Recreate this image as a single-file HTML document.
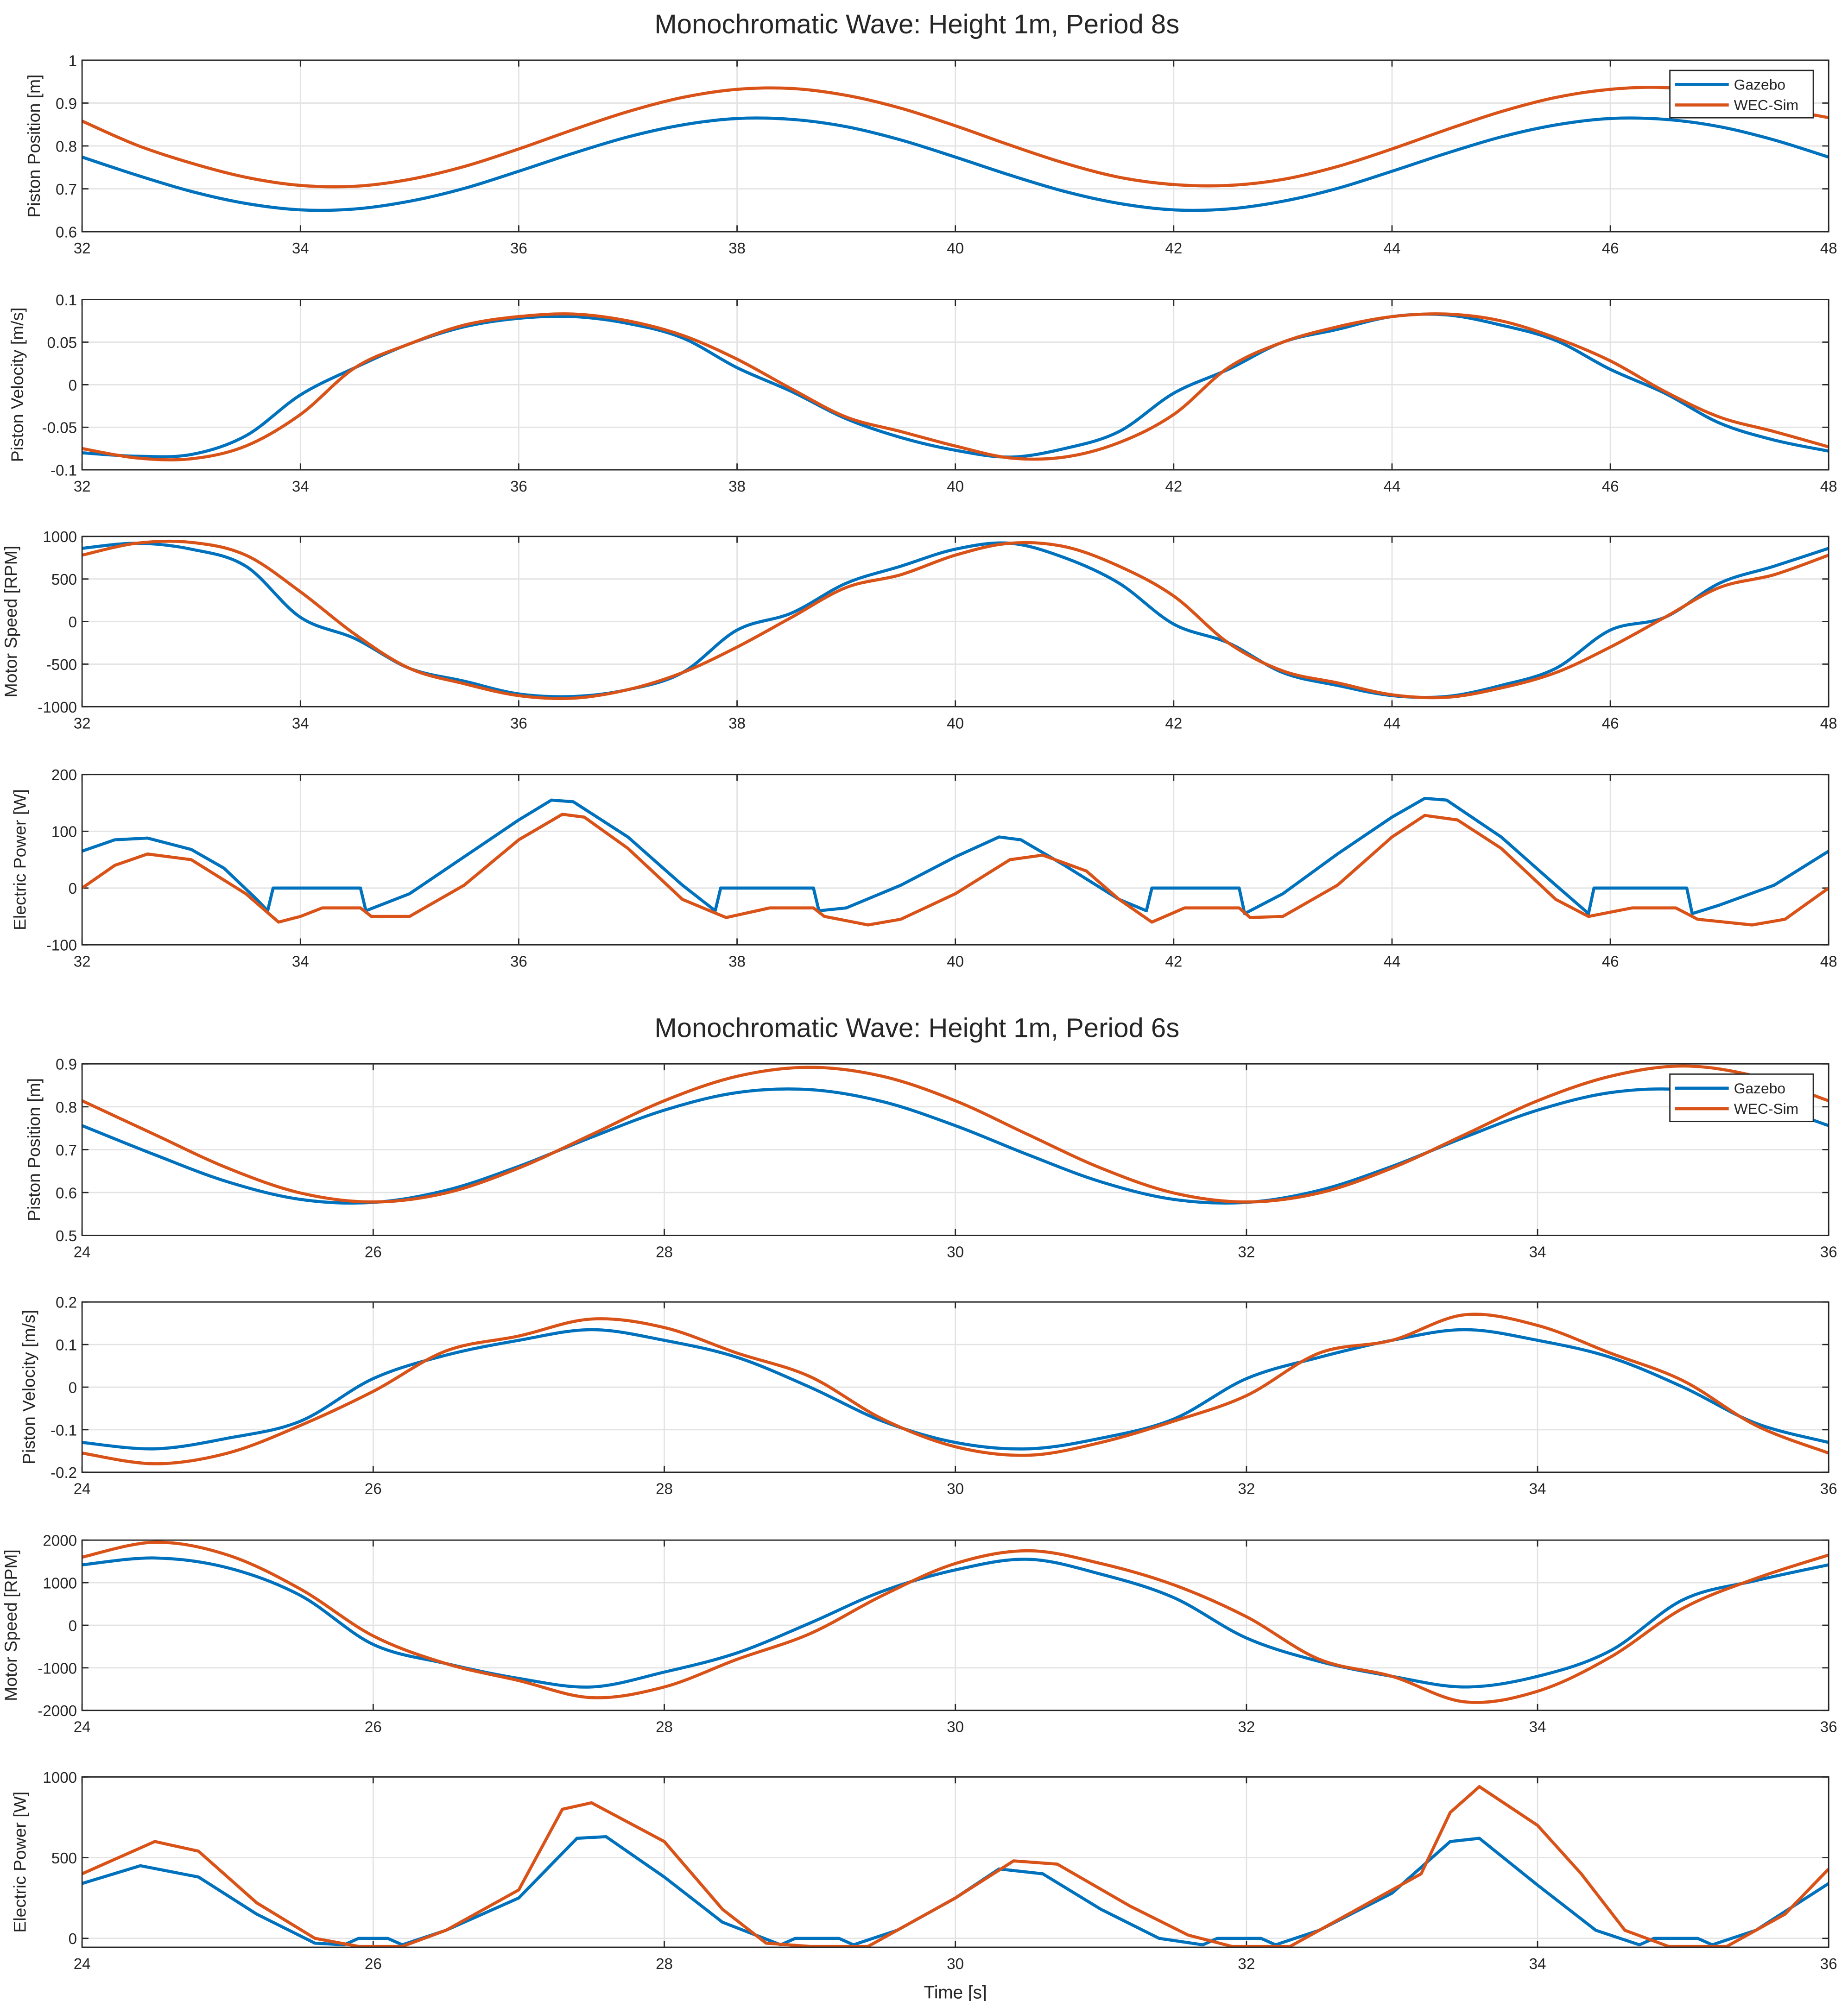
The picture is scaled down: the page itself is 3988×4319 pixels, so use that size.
<!DOCTYPE html>
<html><head><meta charset="utf-8"><style>
html,body{margin:0;padding:0;background:#fff}
svg{display:block}
text{font-family:"Liberation Sans",sans-serif;fill:#262626}
</style></head><body>
<svg id="fig" width="3988" height="4319" viewBox="0 0 1443 1563" xmlns="http://www.w3.org/2000/svg">
<rect width="1443" height="1563" fill="#fff"/>
<text x="716" y="26" font-size="21" text-anchor="middle">Monochromatic Wave: Height 1m, Period 8s</text>
<text x="716" y="810" font-size="21" text-anchor="middle">Monochromatic Wave: Height 1m, Period 6s</text>
<text x="746" y="1561" font-size="14" text-anchor="middle">Time [s]</text>
</svg>
<script>
// ---- data ----
const t8 = [32,32.5,33,33.5,34,34.5,35,35.5,36,36.5,37,37.5,38,38.5,39,39.5,40,40.5,41,41.5,42,42.5,43,43.5,44,44.5,45,45.5,46,46.5,47,47.5,48];
const t6 = [24,24.5,25,25.5,26,26.5,27,27.5,28,28.5,29,29.5,30,30.5,31,31.5,32,32.5,33,33.5,34,34.5,35,35.5,36];
const pos8Gazebo = [0.774,0.732,0.694,0.666,0.651,0.653,0.671,0.701,0.741,0.783,0.821,0.849,0.864,0.862,0.845,0.814,0.774,0.732,0.694,0.666,0.651,0.653,0.671,0.701,0.741,0.783,0.821,0.849,0.864,0.862,0.845,0.814,0.774];
const pos8Wec = [0.858,0.802,0.760,0.727,0.708,0.706,0.722,0.752,0.793,0.838,0.880,0.913,0.932,0.934,0.918,0.888,0.847,0.802,0.760,0.727,0.710,0.708,0.722,0.752,0.793,0.838,0.880,0.913,0.932,0.936,0.920,0.890,0.866];
const vel8Gazebo = [-0.080,-0.084,-0.082,-0.060,-0.012,0.020,0.048,0.068,0.078,0.080,0.072,0.055,0.020,-0.008,-0.040,-0.062,-0.077,-0.085,-0.075,-0.055,-0.010,0.018,0.050,0.065,0.080,0.082,0.070,0.052,0.018,-0.010,-0.045,-0.065,-0.078];
const vel8Wec = [-0.075,-0.086,-0.087,-0.072,-0.035,0.020,0.048,0.070,0.080,0.083,0.075,0.058,0.030,-0.005,-0.038,-0.055,-0.072,-0.086,-0.085,-0.068,-0.035,0.020,0.050,0.068,0.080,0.083,0.075,0.055,0.028,-0.008,-0.038,-0.055,-0.073];
const rpm8Gazebo = [860,920,850,650,50,-200,-550,-700,-850,-880,-800,-600,-100,100,450,650,850,920,750,450,-30,-250,-600,-750,-870,-880,-750,-550,-100,50,450,650,860];
const rpm8Wec = [780,920,930,780,350,-150,-550,-730,-870,-900,-800,-600,-300,50,400,550,780,920,880,650,300,-250,-580,-720,-860,-890,-780,-600,-300,50,400,550,780];
const pw8GazeboT = [32,32.3,32.6,33,33.3,33.6,33.7,33.75,34.55,34.6,35,35.5,36,36.3,36.5,37,37.5,37.8,37.85,38.7,38.75,39,39.5,40,40.4,40.6,41,41.5,41.75,41.8,42.6,42.65,43,43.5,44,44.3,44.5,45,45.5,45.8,45.85,46.7,46.75,47,47.5,48];
const pw8Gazebo = [65,85,88,68,35,-20,-40,0,0,-40,-10,55,120,155,152,90,5,-40,0,0,-40,-35,5,55,90,85,40,-20,-40,0,0,-45,-10,60,125,158,155,90,5,-45,0,0,-45,-30,5,65];
const pw8WecT = [32,32.3,32.6,33,33.5,33.8,34,34.2,34.55,34.65,35,35.5,36,36.4,36.6,37,37.5,37.9,38.3,38.7,38.8,39.2,39.5,40,40.5,40.8,41.2,41.5,41.8,42.1,42.6,42.7,43,43.5,44,44.3,44.6,45,45.5,45.8,46.2,46.6,46.8,47.3,47.6,48];
const pw8Wec = [0,40,60,50,-10,-60,-50,-35,-35,-50,-50,5,85,130,125,70,-20,-52,-35,-35,-50,-65,-55,-10,50,58,30,-20,-60,-35,-35,-52,-50,5,90,128,120,70,-20,-50,-35,-35,-55,-65,-55,0];
const pos6Gazebo = [0.756,0.688,0.625,0.584,0.577,0.605,0.661,0.729,0.792,0.833,0.840,0.812,0.756,0.688,0.625,0.584,0.577,0.605,0.661,0.729,0.792,0.833,0.840,0.812,0.756];
const pos6Wec = [0.814,0.735,0.657,0.599,0.578,0.599,0.657,0.735,0.814,0.871,0.892,0.871,0.814,0.735,0.657,0.599,0.578,0.599,0.657,0.735,0.814,0.871,0.895,0.871,0.814];
const vel6Gazebo = [-0.13,-0.145,-0.12,-0.08,0.02,0.075,0.11,0.135,0.11,0.07,0.0,-0.08,-0.13,-0.145,-0.12,-0.075,0.02,0.07,0.11,0.135,0.11,0.07,0.0,-0.085,-0.13];
const vel6Wec = [-0.155,-0.18,-0.155,-0.09,-0.01,0.085,0.12,0.16,0.14,0.08,0.025,-0.075,-0.14,-0.16,-0.13,-0.08,-0.02,0.08,0.11,0.17,0.145,0.08,0.015,-0.09,-0.155];
const rpm6Gazebo = [1420,1580,1350,700,-450,-900,-1250,-1450,-1100,-650,50,800,1300,1550,1200,650,-300,-850,-1200,-1450,-1200,-600,600,1050,1420];
const rpm6Wec = [1600,1950,1650,850,-250,-900,-1300,-1700,-1450,-800,-200,700,1450,1750,1450,950,200,-800,-1200,-1800,-1550,-750,400,1100,1650];
const pw6GazeboT = [24,24.4,24.8,25.2,25.6,25.8,25.9,26.1,26.2,26.5,27,27.4,27.6,28,28.4,28.8,28.9,29.2,29.3,29.6,30,30.3,30.6,31,31.4,31.7,31.8,32.1,32.2,32.5,33,33.4,33.6,34,34.4,34.7,34.8,35.1,35.2,35.5,36];
const pw6Gazebo = [340,450,380,150,-30,-40,0,0,-40,50,250,620,630,380,100,-40,0,0,-40,50,250,430,400,180,0,-40,0,0,-40,50,280,600,620,330,50,-40,0,0,-40,50,340];
const pw6WecT = [24,24.5,24.8,25.2,25.6,25.9,26.2,26.5,27,27.3,27.5,28,28.4,28.7,29,29.4,30,30.4,30.7,31.2,31.6,31.9,32.3,32.7,33.2,33.4,33.6,34,34.3,34.6,34.9,35.3,35.7,36];
const pw6Wec = [400,600,540,220,0,-50,-50,50,300,800,840,600,180,-30,-50,-50,250,480,460,200,20,-50,-50,150,400,780,940,700,400,50,-50,-50,150,430];
const xTicks8 = [32,34,36,38,40,42,44,46,48];
const xTicks6 = [24,26,28,30,32,34,36];

// ---- panels ----
const panels = [
 {name:'piston-position-8s',y0:47,y1:181,x:[32,48],yr:[0.6,1],yt:[0.6,0.7,0.8,0.9,1],xt:xTicks8,lab:'Piston Position [m]',lx:31,smooth:true,
  s:[[t8,pos8Gazebo],[t8,pos8Wec]],legend:true},
 {name:'piston-velocity-8s',y0:234,y1:367,x:[32,48],yr:[-0.1,0.1],yt:[-0.1,-0.05,0,0.05,0.1],xt:xTicks8,lab:'Piston Velocity [m/s]',lx:18,smooth:true,
  s:[[t8,vel8Gazebo],[t8,vel8Wec]]},
 {name:'motor-speed-8s',y0:419,y1:552,x:[32,48],yr:[-1000,1000],yt:[-1000,-500,0,500,1000],xt:xTicks8,lab:'Motor Speed [RPM]',lx:13,smooth:true,
  s:[[t8,rpm8Gazebo],[t8,rpm8Wec]]},
 {name:'electric-power-8s',y0:605,y1:738,x:[32,48],yr:[-100,200],yt:[-100,0,100,200],xt:xTicks8,lab:'Electric Power [W]',lx:20,
  s:[[pw8GazeboT,pw8Gazebo],[pw8WecT,pw8Wec]]},
 {name:'piston-position-6s',y0:831,y1:965,x:[24,36],yr:[0.5,0.9],yt:[0.5,0.6,0.7,0.8,0.9],xt:xTicks6,lab:'Piston Position [m]',lx:31,smooth:true,
  s:[[t6,pos6Gazebo],[t6,pos6Wec]],legend:true},
 {name:'piston-velocity-6s',y0:1017,y1:1150,x:[24,36],yr:[-0.2,0.2],yt:[-0.2,-0.1,0,0.1,0.2],xt:xTicks6,lab:'Piston Velocity [m/s]',lx:27,smooth:true,
  s:[[t6,vel6Gazebo],[t6,vel6Wec]]},
 {name:'motor-speed-6s',y0:1203,y1:1336,x:[24,36],yr:[-2000,2000],yt:[-2000,-1000,0,1000,2000],xt:xTicks6,lab:'Motor Speed [RPM]',lx:13,smooth:true,
  s:[[t6,rpm6Gazebo],[t6,rpm6Wec]]},
 {name:'electric-power-6s',y0:1388,y1:1521,x:[24,36],yr:[-55,1000],yt:[0,500,1000],xt:xTicks6,lab:'Electric Power [W]',lx:20,
  s:[[pw6GazeboT,pw6Gazebo],[pw6WecT,pw6Wec]]}
];
const NS='http://www.w3.org/2000/svg';
const svg=document.getElementById('fig');
const X0=64,X1=1428,colors=['#0072BD','#D95319'],snames=['gazebo','wec-sim'];
function mk(tag,attrs,parent){const e=document.createElementNS(NS,tag);for(const k in attrs)e.setAttribute(k,attrs[k]);(parent||svg).appendChild(e);return e;}
function fmt(v){return String(+v.toFixed(4));}
function pathFor(P,smooth){
  if(!smooth) return P.map((p,k)=>(k?'L':'M')+p[0].toFixed(2)+','+p[1].toFixed(2)).join('');
  let d='M'+P[0][0].toFixed(2)+','+P[0][1].toFixed(2);
  for(let i=0;i<P.length-1;i++){
    const p0=P[i-1]||P[i],p1=P[i],p2=P[i+1],p3=P[i+2]||P[i+1];
    const c1=[p1[0]+(p2[0]-p0[0])/6,p1[1]+(p2[1]-p0[1])/6];
    const c2=[p2[0]-(p3[0]-p1[0])/6,p2[1]-(p3[1]-p1[1])/6];
    d+='C'+c1[0].toFixed(2)+','+c1[1].toFixed(2)+' '+c2[0].toFixed(2)+','+c2[1].toFixed(2)+' '+p2[0].toFixed(2)+','+p2[1].toFixed(2);
  }
  return d;
}
panels.forEach(p=>{
  const g=mk('g',{});
  
  
  const sx=v=>X0+(v-p.x[0])/(p.x[1]-p.x[0])*(X1-X0);
  const sy=v=>p.y1-(v-p.yr[0])/(p.yr[1]-p.yr[0])*(p.y1-p.y0);
  mk('rect',{x:X0,y:p.y0,width:X1-X0,height:p.y1-p.y0,fill:'#fff'},g);
  p.xt.forEach(t=>{
    const gl=mk('line',{x1:sx(t),x2:sx(t),y1:p.y0,y2:p.y1,stroke:'#e3e3e3','stroke-width':1},g);
    
    
    mk('line',{x1:sx(t),x2:sx(t),y1:p.y1,y2:p.y1-5,stroke:'#262626','stroke-width':1},g);
    mk('line',{x1:sx(t),x2:sx(t),y1:p.y0,y2:p.y0+5,stroke:'#262626','stroke-width':1},g);
    const tl=mk('text',{x:sx(t),y:p.y1+17,'font-size':12,'text-anchor':'middle'},g);
    
    
    tl.textContent=fmt(t);
  });
  p.yt.forEach(v=>{
    const gl=mk('line',{x1:X0,x2:X1,y1:sy(v),y2:sy(v),stroke:'#e3e3e3','stroke-width':1},g);
    
    
    mk('line',{x1:X0,x2:X0+5,y1:sy(v),y2:sy(v),stroke:'#262626'},g);
    mk('line',{x1:X1,x2:X1-5,y1:sy(v),y2:sy(v),stroke:'#262626'},g);
    const tl=mk('text',{x:X0-4,y:sy(v)+4.5,'font-size':12,'text-anchor':'end'},g);
    
    
    tl.textContent=fmt(v);
  });
  p.s.forEach((s,i)=>{
    const [ts,vs]=s;
    const P=ts.map((t,k)=>[sx(t),sy(vs[k])]);
    const pl=mk('path',{d:pathFor(P,!!p.smooth),fill:'none',stroke:colors[i],'stroke-width':2.4,'stroke-linejoin':'round'},g);
    
    
  });
  mk('rect',{x:X0,y:p.y0,width:X1-X0,height:p.y1-p.y0,fill:'none',stroke:'#262626','stroke-width':1},g);
  const yl=mk('text',{x:p.lx,y:(p.y0+p.y1)/2,'font-size':13.5,'text-anchor':'middle',transform:'rotate(-90 '+p.lx+' '+((p.y0+p.y1)/2)+')'},g);
  
  
  yl.textContent=p.lab;
  if(p.legend){
    const lg=mk('g',{},g);
    
    
    const ly=p.y0+8;
    mk('rect',{x:1304,y:ly,width:112,height:37,fill:'#fff',stroke:'#262626','stroke-width':1},lg);
    ['Gazebo','WEC-Sim'].forEach((n,i)=>{
      const e=mk('g',{},lg);
      
      
      const yy=ly+11+i*16;
      mk('line',{x1:1308,x2:1350,y1:yy,y2:yy,stroke:colors[i],'stroke-width':2.4},e);
      const tx=mk('text',{x:1354,y:yy+4,'font-size':11.5},e);
      tx.textContent=n;
    });
  }
});
</script>
</body></html>
